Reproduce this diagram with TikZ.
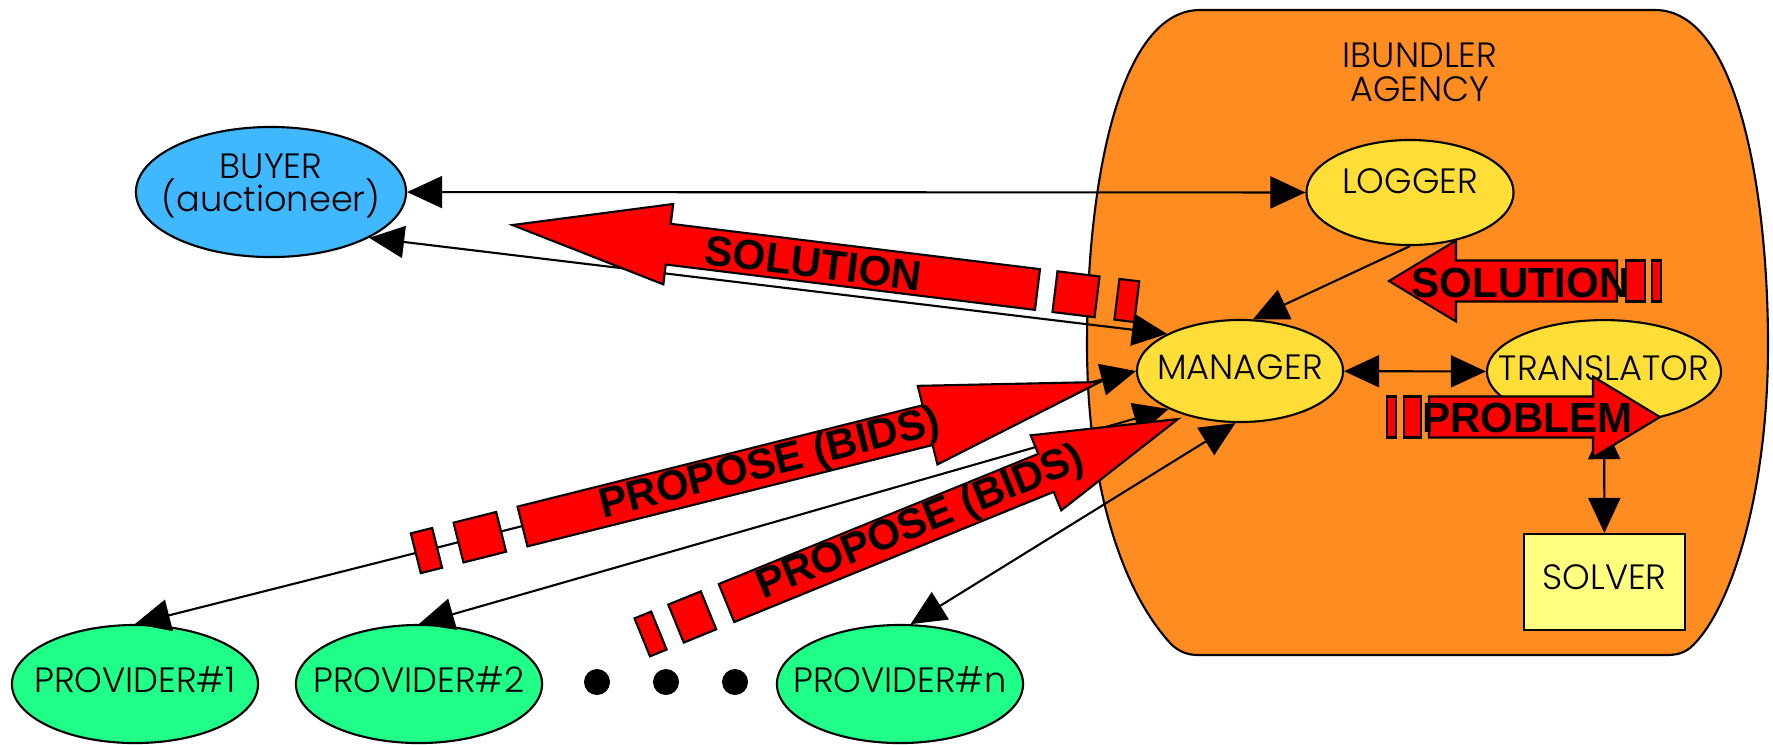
\documentclass[tikz,border=0pt]{standalone}
\usepackage{fontspec}
\setmainfont{Poppins}[UprightFont={* Light}]
\newfontfamily\grassetto{Liberation Sans}
\usetikzlibrary{shapes.geometric, arrows.meta}

\definecolor{arancio}{RGB}{255,140,32}
\definecolor{giallo}{RGB}{255,222,55}
\definecolor{giallino}{RGB}{255,255,128}
\definecolor{azzurro}{RGB}{64,184,255}
\definecolor{verde}{RGB}{32,255,136}

% freccia rossa: coda, angolo, fusto, punta, trattini
\newcommand{\freccia}[5]{%
    \begin{scope}[shift={#1}, rotate=#2]
        \draw[rosso] (0,-20.5) -- (#3,-20.5) -- (#3,-40.5) -- (#3+#4,0) -- (#3,40.5) -- (#3,20.5) -- (0,20.5) -- cycle;
        \foreach \a/\b in {#5} \draw[rosso] (\a,-20.5) rectangle (\b,20.5);
    \end{scope}}

\begin{document}
\begin{tikzpicture}[x=0.01cm, y=-0.01cm,
        every node/.style={font=\fontsize{10}{9.6}\selectfont},
        agente/.style={ellipse, draw, line width=0.6pt, fill=giallo},
        fornitore/.style={agente, fill=verde, minimum width=2.46cm, minimum height=1.18cm},
        arco/.style={line width=0.6pt, {Triangle[length=0.35cm,width=0.32cm]}-{Triangle[length=0.35cm,width=0.32cm]}},
        rosso/.style={fill=red, draw=black, line width=0.6pt},
        scritta/.style={font=\grassetto\bfseries\fontsize{12}{12}\selectfont}]

        \useasboundingbox (0,0) rectangle (1773,744);

        % Agenzia
        \draw[fill=arancio, line width=0.6pt] (1200,10) -- (1655,10)
            .. controls (1740,10) and (1768,200) .. (1768,345)
            .. controls (1768,500) and (1728,615) .. (1690,648)
            .. controls (1682,654) and (1675,655) .. (1665,655)
            -- (1198,655)
            .. controls (1188,655) and (1180,652) .. (1172,645)
            .. controls (1120,590) and (1087,480) .. (1087,345)
            .. controls (1087,180) and (1120,10) .. (1200,10) -- cycle;
        \node[align=center] (agenzia) at (1420,72) {IBUNDLER\\AGENCY};

        % Posizioni dei nodi
        \node[agente, fill=azzurro, minimum width=2.7cm, minimum height=1.3cm,
            label={[align=center, yshift=0.6mm]center:BUYER\\(auctioneer)}] (buyer) at (271,192) {};
        \node[agente, minimum width=2.07cm, minimum height=1.05cm,
            label={[yshift=1.1mm]center:LOGGER}] (logger) at (1410,192.5) {};
        \node[agente, minimum width=2.06cm, minimum height=1.02cm,
            label={[yshift=0.4mm]center:MANAGER}] (manager) at (1240,371) {};
        \node[agente, minimum width=2.34cm, minimum height=1.03cm,
            label={[yshift=0.3mm]center:TRANSLATOR}] (translator) at (1604,371.6) {};
        \node[draw, line width=0.6pt, fill=giallino, minimum width=1.61cm, minimum height=0.96cm,
            label={[yshift=0.5mm]center:SOLVER}] (solver) at (1604.5,582) {};
        \node[fornitore, label={[yshift=0.4mm]center:PROVIDER\#1}] (prov1) at (135,684) {};
        \node[fornitore, label={[yshift=0.4mm]center:PROVIDER\#2}] (prov2) at (419,684) {};
        \node[fornitore, label={[yshift=0.4mm]center:PROVIDER\#n}] (provn) at (900,684) {};
        \foreach \x in {597,666,735} \fill (\x,682) circle[radius=0.13cm];

        % Archi
        \draw[arco] (buyer) -- (logger);
        \draw[arco] (buyer.-25) -- (manager.153);
        \draw[line width=0.6pt, -{Triangle[length=0.35cm,width=0.32cm]}] (logger.south) -- (manager.76);
        \draw[arco] (manager) -- (translator);
        \draw[arco] (translator) -- (solver);
        \draw[arco] (prov1.north) -- (manager.west);
        \draw[arco] (prov2.north) -- (manager.208);
        \draw[arco] (provn.80) -- (manager.265);

        % Messaggi
        \freccia{(1037.5,289.5)}{173}{372}{157}{-17.6/-60, -80/-100}
        \freccia{(1617,281)}{180}{161}{67}{-9/-28, -35/-44}
        \freccia{(1429,417)}{0}{164}{67}{-8/-25, -33/-42}
        \freccia{(522.5,526.5)}{14.05}{417.6}{177.7}{-22/-66, -88/-110}
        \freccia{(726.5,603)}{22.17}{345}{142.6}{-19.4/-54.5, -73/-91}

        \node[scritta, rotate=-7] (tsol1) at (813.5,263) {SOLUTION};
        \node[scritta] (tsol2) at (1520.5,282.5) {SOLUTION};
        \node[scritta] (tprob) at (1527.5,417.5) {PROBLEM};
        \node[scritta, rotate=14.05] (tprop1) at (770,465) {PROPOSE (BIDS)};
        \node[scritta, rotate=22.17] (tprop2) at (921,523.5) {PROPOSE (BIDS)};
    \end{tikzpicture}
\end{document}
